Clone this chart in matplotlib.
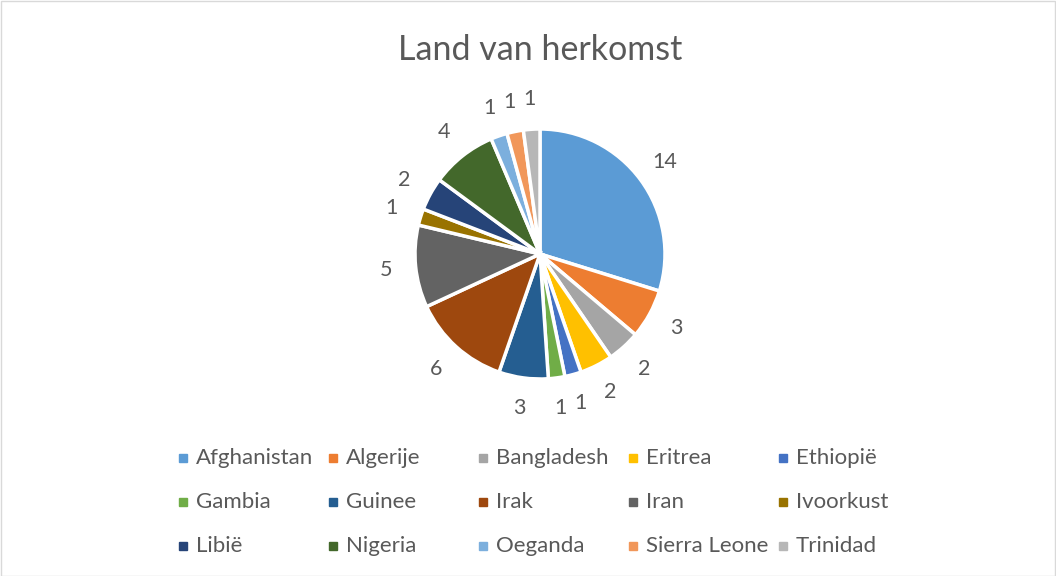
import matplotlib.pyplot as plt
from matplotlib.patches import Rectangle

plt.rcParams['font.family'] = ['Lato', 'DejaVu Sans']

# data
landen = ['Afghanistan', 'Algerije', 'Bangladesh', 'Eritrea', 'Ethiopië',
          'Gambia', 'Guinee', 'Irak', 'Iran', 'Ivoorkust',
          'Libië', 'Nigeria', 'Oeganda', 'Sierra Leone', 'Trinidad']
aantal = [14, 3, 2, 2, 1, 1, 3, 6, 5, 1, 2, 4, 1, 1, 1]
kleuren = ['#5B9BD5', '#ED7D31', '#A5A5A5', '#FFC000', '#4472C4',
           '#70AD47', '#255E91', '#9E480E', '#636363', '#997300',
           '#264478', '#43682B', '#7CAFDD', '#F1975A', '#B7B7B7']
tekst = '#595959'

W, H = 1056, 576
fig = plt.figure(figsize=(W / 100, H / 100), dpi=100)

# pie centred at (540, 254) px with radius 125 px
cx, cy, r = 540, 254, 125
half = 1.5 * r
ax = fig.add_axes([(cx - half) / W, (H - cy - half) / H, 2 * half / W, 2 * half / H])
wedges, labels = ax.pie(aantal, colors=kleuren, startangle=90, counterclock=False,
                        labels=[str(v) for v in aantal], labeldistance=1.24,
                        wedgeprops=dict(edgecolor='white', linewidth=2.5),
                        textprops=dict(color=tekst, fontsize=15.5))
for t in labels:
    t.set_ha('center')
    t.set_va('center')
ax.set_xlim(-1.5, 1.5)
ax.set_ylim(-1.5, 1.5)
ax.set_aspect('equal')
ax.axis('off')

fig.text(cx / W, 1 - 50 / H, 'Land van herkomst', ha='center', va='center',
         fontsize=24.5, color=tekst)

# legend: 5 equal columns, row-wise
for i, naam in enumerate(landen):
    col, row = i % 5, i // 5
    x = 179 + col * 150
    y = 458 + row * 44
    fig.patches.append(Rectangle((x / W, 1 - (y + 4) / H), 8 / W, 8 / H,
                                 transform=fig.transFigure, color=kleuren[i]))
    fig.text((x + 17) / W, 1 - y / H, naam, ha='left', va='center',
             fontsize=16, color=tekst)

fig.patches.append(Rectangle((0.5 / W, 0.5 / H), 1 - 1.5 / W, 1 - 1.5 / H,
                             transform=fig.transFigure, fill=False,
                             edgecolor='#D9D9D9', linewidth=1))

fig.savefig('out.png', dpi=100, facecolor='white')
